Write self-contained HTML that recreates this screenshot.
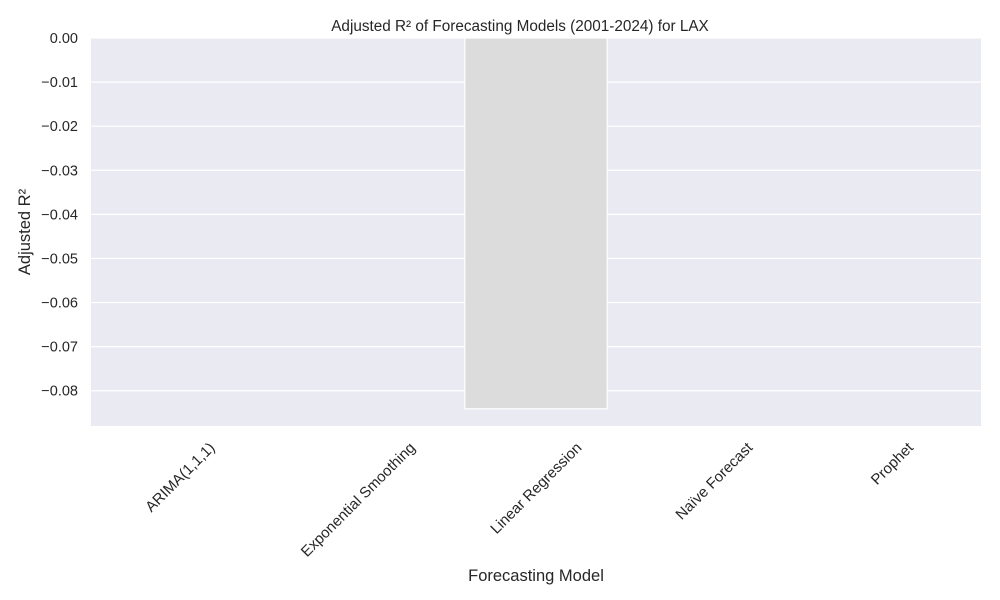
<!DOCTYPE html>
<html><head><meta charset="utf-8"><style>body{margin:0;background:#fff}svg{display:block;font-family:"Liberation Sans",Arial,sans-serif}</style></head>
<body>
<svg id="chart" width="1000" height="600" viewBox="0 0 1000 600" xmlns="http://www.w3.org/2000/svg"></svg>
<script>
const categories = ["ARIMA(1,1,1)","Exponential Smoothing","Linear Regression","Naïve Forecast","Prophet"];
const values = [0, 0, -0.0841, 0, 0];
const yTicks = [0, -0.01, -0.02, -0.03, -0.04, -0.05, -0.06, -0.07, -0.08];
const yMin = -0.0880, yMax = 0;
const L=91,R=981,T=38,B=426;
const NS="http://www.w3.org/2000/svg";
const svg=document.getElementById('chart');
function y(v){return T+(yMax-v)/(yMax-yMin)*(B-T);}
const band=(R-L)/categories.length;
function xc(i){return L+band*(i+0.5);}
function mk(tag,attrs,parent){const e=document.createElementNS(NS,tag);for(const k in attrs)e.setAttribute(k,attrs[k]);(parent||svg).appendChild(e);return e;}
const bg=mk('rect',{x:L,y:T,width:R-L,height:B-T,fill:'#eaeaf2'});


yTicks.forEach(t=>{
  const g=mk('line',{x1:L,x2:R,y1:y(t),y2:y(t),stroke:'#fff','stroke-width':1.2});
  
  
  const tx=mk('text',{x:L-13,y:y(t)+5,'text-anchor':'end','font-size':14.5,fill:'#262626'});
  tx.textContent=(t===0?'0.00':'\u2212'+Math.abs(t).toFixed(2));
  
  
});
categories.forEach((c,i)=>{
  const w=band*0.8, y0=y(0), y1=y(values[i]);
  const r=mk('rect',{x:xc(i)-w/2,y:Math.min(y0,y1),width:w,height:Math.abs(y1-y0),fill:'#dcdcdc',stroke:'#fff','stroke-width':1.2});
  
  
  const tx=mk('text',{x:0,y:5,'text-anchor':'middle','font-size':15,fill:'#262626'});
  tx.textContent=c;
  
  
  const len=tx.getComputedTextLength();
  const cy=B+19+len*0.7071/2;
  tx.setAttribute('transform',`translate(${xc(i)},${cy}) rotate(-45)`);
});
const title=mk('text',{x:520,y:31,'text-anchor':'middle','font-size':15.3,fill:'#262626'});
title.textContent='Adjusted R² of Forecasting Models (2001-2024) for LAX';


const xt=mk('text',{x:(L+R)/2,y:581,'text-anchor':'middle','font-size':16.5,fill:'#262626'});
xt.textContent='Forecasting Model';


const yt=mk('text',{x:0,y:0,'text-anchor':'middle','font-size':16.5,fill:'#262626',transform:`translate(30,${(T+B)/2}) rotate(-90)`});
yt.textContent='Adjusted R²';


</script>
</body></html>
